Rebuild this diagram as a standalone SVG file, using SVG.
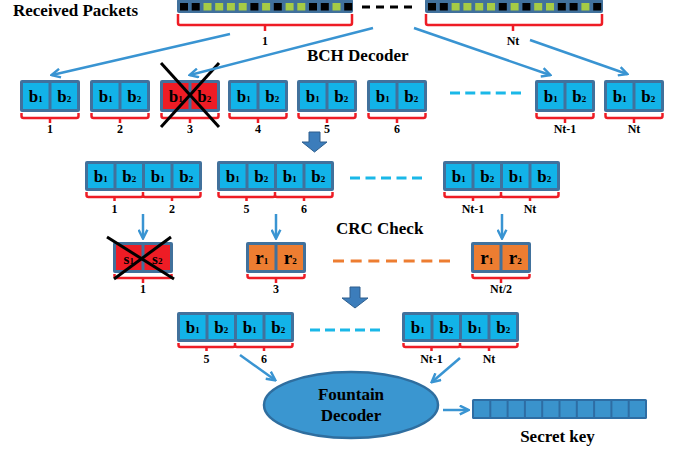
<svg xmlns="http://www.w3.org/2000/svg" width="676" height="452" viewBox="0 0 676 452">
<defs>
<style>
.t{font-family:"Liberation Serif","Times New Roman",serif;font-weight:bold;fill:#000}
.h{font-size:17px}
.lb{font-size:12px;text-anchor:middle}
.cb{font-size:17px;text-anchor:middle}
.sub{font-size:9px}
.ob{fill:#41719C}
.cy{fill:#12B3E8}
.rd{fill:#EE1C25}
.or{fill:#ED7D31}
.k{fill:#000}
.g{fill:#A6CB45}
.br{fill:none;stroke:#EE1C25;stroke-width:2.5;stroke-linejoin:round}
.ar{fill:none;stroke:#3994D2;stroke-width:2.5;marker-end:url(#ah)}
.x{stroke:#000;stroke-width:3}
.ba{fill:#3C7DBB;stroke:#2E5F8E;stroke-width:1}
</style>
<marker id="ah" viewBox="0 0 10 10" refX="8.5" refY="5" markerWidth="11" markerHeight="11" markerUnits="userSpaceOnUse" orient="auto">
<path d="M1,1 L9,5 L1,9" fill="none" stroke="#3994D2" stroke-width="2.2"/>
</marker>
</defs>
<rect width="676" height="452" fill="#fff"/>

<text class="t h" x="13" y="16">Received Packets</text>
<text class="t h" x="307" y="61">BCH Decoder</text>
<text class="t h" x="336" y="234">CRC Check</text>

<g id="packet1">
<rect class="ob" x="177" y="-1" width="176" height="14" rx="2"/>
<rect class="k" x="180" y="3" width="8" height="7.5"/><rect class="k" x="191.7" y="3" width="8" height="7.5"/><rect class="g" x="203.5" y="3" width="8" height="7.5"/><rect class="g" x="215.2" y="3" width="8" height="7.5"/><rect class="g" x="226.9" y="3" width="8" height="7.5"/><rect class="g" x="238.7" y="3" width="8" height="7.5"/><rect class="k" x="250.4" y="3" width="8" height="7.5"/><rect class="g" x="262.1" y="3" width="8" height="7.5"/><rect class="k" x="273.8" y="3" width="8" height="7.5"/><rect class="g" x="285.6" y="3" width="8" height="7.5"/><rect class="g" x="297.3" y="3" width="8" height="7.5"/><rect class="k" x="309" y="3" width="8" height="7.5"/><rect class="k" x="320.8" y="3" width="8" height="7.5"/><rect class="g" x="332.5" y="3" width="8" height="7.5"/><rect class="k" x="344.2" y="3" width="8" height="7.5"/>
<path class="br" d="M178 14V23Q178 25 180 25H350Q352 25 352 23V14M265 25V31"/>
<text class="t lb" x="265" y="45">1</text>
</g>
<g id="packetNt">
<rect class="ob" x="425" y="-1" width="178" height="14" rx="2"/>
<rect class="k" x="428" y="3" width="8" height="7.5"/><rect class="k" x="439.8" y="3" width="8" height="7.5"/><rect class="g" x="451.6" y="3" width="8" height="7.5"/><rect class="g" x="463.4" y="3" width="8" height="7.5"/><rect class="g" x="475.2" y="3" width="8" height="7.5"/><rect class="g" x="487" y="3" width="8" height="7.5"/><rect class="k" x="498.8" y="3" width="8" height="7.5"/><rect class="g" x="510.6" y="3" width="8" height="7.5"/><rect class="k" x="522.4" y="3" width="8" height="7.5"/><rect class="g" x="534.2" y="3" width="8" height="7.5"/><rect class="g" x="546" y="3" width="8" height="7.5"/><rect class="k" x="557.8" y="3" width="8" height="7.5"/><rect class="k" x="569.6" y="3" width="8" height="7.5"/><rect class="g" x="581.4" y="3" width="8" height="7.5"/><rect class="k" x="593.2" y="3" width="8" height="7.5"/>
<path class="br" d="M426 14V23Q426 25 428 25H600Q602 25 602 23V14M513 25V31"/>
<text class="t lb" x="513" y="45">Nt</text>
</g>

<!-- Row 1 -->
<g id="r1b1"><rect class="ob" x="20" y="80" width="60" height="32" rx="2"/><rect class="cy" x="23" y="83" width="25.5" height="26"/><rect class="cy" x="51.5" y="83" width="25.5" height="26"/>
<text class="t cb" x="35.75" y="102">b<tspan class="sub">1</tspan></text><text class="t cb" x="64.25" y="102">b<tspan class="sub">2</tspan></text>
<path class="br" d="M21.5 113V116Q21.5 118 23.5 118H76.5Q78.5 118 78.5 116V113M50 118V123"/><text class="t lb" x="50" y="133">1</text></g>
<g id="r1b2"><rect class="ob" x="90" y="80" width="60" height="32" rx="2"/><rect class="cy" x="93" y="83" width="25.5" height="26"/><rect class="cy" x="121.5" y="83" width="25.5" height="26"/>
<text class="t cb" x="105.75" y="102">b<tspan class="sub">1</tspan></text><text class="t cb" x="134.25" y="102">b<tspan class="sub">2</tspan></text>
<path class="br" d="M91.5 113V116Q91.5 118 93.5 118H146.5Q148.5 118 148.5 116V113M120 118V123"/><text class="t lb" x="120" y="133">2</text></g>
<g id="r1b3"><rect class="ob" x="160" y="80" width="60" height="32" rx="2"/><rect class="rd" x="163" y="83" width="25.5" height="26"/><rect class="rd" x="191.5" y="83" width="25.5" height="26"/>
<text class="t cb" x="175.75" y="102">b<tspan class="sub">1</tspan></text><text class="t cb" x="204.25" y="102">b<tspan class="sub">2</tspan></text>
<path class="br" d="M161.5 113V116Q161.5 118 163.5 118H216.5Q218.5 118 218.5 116V113M190 118V123"/><text class="t lb" x="190" y="133">3</text>
<line class="x" x1="161" y1="63" x2="219" y2="127"/><line class="x" x1="219" y1="63" x2="161" y2="127"/></g>
<g id="r1b4"><rect class="ob" x="228" y="80" width="60" height="32" rx="2"/><rect class="cy" x="231" y="83" width="25.5" height="26"/><rect class="cy" x="259.5" y="83" width="25.5" height="26"/>
<text class="t cb" x="243.75" y="102">b<tspan class="sub">1</tspan></text><text class="t cb" x="272.25" y="102">b<tspan class="sub">2</tspan></text>
<path class="br" d="M229.5 113V116Q229.5 118 231.5 118H284.5Q286.5 118 286.5 116V113M258 118V123"/><text class="t lb" x="258" y="133">4</text></g>
<g id="r1b5"><rect class="ob" x="297" y="80" width="60" height="32" rx="2"/><rect class="cy" x="300" y="83" width="25.5" height="26"/><rect class="cy" x="328.5" y="83" width="25.5" height="26"/>
<text class="t cb" x="312.75" y="102">b<tspan class="sub">1</tspan></text><text class="t cb" x="341.25" y="102">b<tspan class="sub">2</tspan></text>
<path class="br" d="M298.5 113V116Q298.5 118 300.5 118H353.5Q355.5 118 355.5 116V113M327 118V123"/><text class="t lb" x="327" y="133">5</text></g>
<g id="r1b6"><rect class="ob" x="367" y="80" width="60" height="32" rx="2"/><rect class="cy" x="370" y="83" width="25.5" height="26"/><rect class="cy" x="398.5" y="83" width="25.5" height="26"/>
<text class="t cb" x="382.75" y="102">b<tspan class="sub">1</tspan></text><text class="t cb" x="411.25" y="102">b<tspan class="sub">2</tspan></text>
<path class="br" d="M368.5 113V116Q368.5 118 370.5 118H423.5Q425.5 118 425.5 116V113M397 118V123"/><text class="t lb" x="397" y="133">6</text></g>
<g id="r1bNt1"><rect class="ob" x="535" y="80" width="60" height="32" rx="2"/><rect class="cy" x="538" y="83" width="25.5" height="26"/><rect class="cy" x="566.5" y="83" width="25.5" height="26"/>
<text class="t cb" x="550.75" y="102">b<tspan class="sub">1</tspan></text><text class="t cb" x="579.25" y="102">b<tspan class="sub">2</tspan></text>
<path class="br" d="M536.5 113V116Q536.5 118 538.5 118H591.5Q593.5 118 593.5 116V113M565 118V123"/><text class="t lb" x="565" y="133">Nt-1</text></g>
<g id="r1bNt"><rect class="ob" x="604" y="80" width="60" height="32" rx="2"/><rect class="cy" x="607" y="83" width="25.5" height="26"/><rect class="cy" x="635.5" y="83" width="25.5" height="26"/>
<text class="t cb" x="619.75" y="102">b<tspan class="sub">1</tspan></text><text class="t cb" x="648.25" y="102">b<tspan class="sub">2</tspan></text>
<path class="br" d="M605.5 113V116Q605.5 118 607.5 118H660.5Q662.5 118 662.5 116V113M634 118V123"/><text class="t lb" x="634" y="133">Nt</text></g>

<!-- Row 2 -->
<g id="r2a"><rect class="ob" x="85" y="161" width="117" height="30" rx="2"/>
<rect class="cy" x="88" y="164" width="25.5" height="24"/><rect class="cy" x="116.5" y="164" width="25.5" height="24"/><rect class="cy" x="145" y="164" width="25.5" height="24"/><rect class="cy" x="173.5" y="164" width="25.5" height="24"/>
<text class="t cb" x="100.75" y="182">b<tspan class="sub">1</tspan></text><text class="t cb" x="129.25" y="182">b<tspan class="sub">2</tspan></text><text class="t cb" x="157.75" y="182">b<tspan class="sub">1</tspan></text><text class="t cb" x="186.25" y="182">b<tspan class="sub">2</tspan></text>
<path class="br" d="M86.5 192V195Q86.5 197 88.5 197H141Q143 197 143 195V192M143 195Q143 197 145 197H198.5Q200.5 197 200.5 195V192M114.5 197V201M172 197V201"/>
<text class="t lb" x="114.5" y="213">1</text><text class="t lb" x="172" y="213">2</text></g>
<g id="r2b"><rect class="ob" x="217" y="161" width="117" height="30" rx="2"/>
<rect class="cy" x="220" y="164" width="25.5" height="24"/><rect class="cy" x="248.5" y="164" width="25.5" height="24"/><rect class="cy" x="277" y="164" width="25.5" height="24"/><rect class="cy" x="305.5" y="164" width="25.5" height="24"/>
<text class="t cb" x="232.75" y="182">b<tspan class="sub">1</tspan></text><text class="t cb" x="261.25" y="182">b<tspan class="sub">2</tspan></text><text class="t cb" x="289.75" y="182">b<tspan class="sub">1</tspan></text><text class="t cb" x="318.25" y="182">b<tspan class="sub">2</tspan></text>
<path class="br" d="M218.5 192V195Q218.5 197 220.5 197H273Q275 197 275 195V192M275 195Q275 197 277 197H330.5Q332.5 197 332.5 195V192M246.5 197V201M304 197V201"/>
<text class="t lb" x="246.5" y="213">5</text><text class="t lb" x="304" y="213">6</text></g>
<g id="r2c"><rect class="ob" x="443" y="161" width="117" height="30" rx="2"/>
<rect class="cy" x="446" y="164" width="25.5" height="24"/><rect class="cy" x="474.5" y="164" width="25.5" height="24"/><rect class="cy" x="503" y="164" width="25.5" height="24"/><rect class="cy" x="531.5" y="164" width="25.5" height="24"/>
<text class="t cb" x="458.75" y="182">b<tspan class="sub">1</tspan></text><text class="t cb" x="487.25" y="182">b<tspan class="sub">2</tspan></text><text class="t cb" x="515.75" y="182">b<tspan class="sub">1</tspan></text><text class="t cb" x="544.25" y="182">b<tspan class="sub">2</tspan></text>
<path class="br" d="M444.5 192V195Q444.5 197 446.5 197H499Q501 197 501 195V192M501 195Q501 197 503 197H556.5Q558.5 197 558.5 195V192M473 197V201M530 197V201"/>
<text class="t lb" x="473" y="213">Nt-1</text><text class="t lb" x="530" y="213">Nt</text></g>

<!-- Row 3 -->
<g id="r3s"><rect class="ob" x="113" y="242" width="60" height="31" rx="2"/><rect class="rd" x="116" y="245" width="25.5" height="25"/><rect class="rd" x="144.5" y="245" width="25.5" height="25"/>
<text class="t cb" x="128.75" y="264" style="font-size:15px">s<tspan class="sub">1</tspan></text><text class="t cb" x="157.25" y="264" style="font-size:15px">s<tspan class="sub">2</tspan></text>
<path class="br" d="M114.5 274V276Q114.5 278 116.5 278H169.5Q171.5 278 171.5 276V274M143 278V283"/><text class="t lb" x="143" y="293">1</text>
<line class="x" x1="107" y1="237" x2="174" y2="279"/><line class="x" x1="171" y1="237" x2="114" y2="279"/></g>
<g id="r3r"><rect class="ob" x="246" y="242" width="60" height="31" rx="2"/><rect class="or" x="249" y="245" width="25.5" height="25"/><rect class="or" x="277.5" y="245" width="25.5" height="25"/>
<text class="t cb" x="261.75" y="264" style="font-size:19px">r<tspan class="sub">1</tspan></text><text class="t cb" x="290.25" y="264" style="font-size:19px">r<tspan class="sub">2</tspan></text>
<path class="br" d="M247.5 274V276Q247.5 278 249.5 278H302.5Q304.5 278 304.5 276V274M276 278V283"/><text class="t lb" x="276" y="293">3</text></g>
<g id="r3rNt"><rect class="ob" x="471" y="242" width="60" height="31" rx="2"/><rect class="or" x="474" y="245" width="25.5" height="25"/><rect class="or" x="502.5" y="245" width="25.5" height="25"/>
<text class="t cb" x="486.75" y="264" style="font-size:19px">r<tspan class="sub">1</tspan></text><text class="t cb" x="515.25" y="264" style="font-size:19px">r<tspan class="sub">2</tspan></text>
<path class="br" d="M472.5 274V276Q472.5 278 474.5 278H527.5Q529.5 278 529.5 276V274M501 278V283"/><text class="t lb" x="501" y="293">Nt/2</text></g>

<!-- Row 4 -->
<g id="r4d"><rect class="ob" x="177" y="312" width="117" height="30" rx="2"/>
<rect class="cy" x="180" y="315" width="25.5" height="24"/><rect class="cy" x="208.5" y="315" width="25.5" height="24"/><rect class="cy" x="237" y="315" width="25.5" height="24"/><rect class="cy" x="265.5" y="315" width="25.5" height="24"/>
<text class="t cb" x="192.75" y="333">b<tspan class="sub">1</tspan></text><text class="t cb" x="221.25" y="333">b<tspan class="sub">2</tspan></text><text class="t cb" x="249.75" y="333">b<tspan class="sub">1</tspan></text><text class="t cb" x="278.25" y="333">b<tspan class="sub">2</tspan></text>
<path class="br" d="M178.5 343V345Q178.5 347 180.5 347H233Q235 347 235 345V343M235 345Q235 347 237 347H290.5Q292.5 347 292.5 345V343M206.5 347V351M264 347V351"/>
<text class="t lb" x="206.5" y="363">5</text><text class="t lb" x="264" y="363">6</text></g>
<g id="r4e"><rect class="ob" x="402" y="312" width="117" height="30" rx="2"/>
<rect class="cy" x="405" y="315" width="25.5" height="24"/><rect class="cy" x="433.5" y="315" width="25.5" height="24"/><rect class="cy" x="462" y="315" width="25.5" height="24"/><rect class="cy" x="490.5" y="315" width="25.5" height="24"/>
<text class="t cb" x="417.75" y="333">b<tspan class="sub">1</tspan></text><text class="t cb" x="446.25" y="333">b<tspan class="sub">2</tspan></text><text class="t cb" x="474.75" y="333">b<tspan class="sub">1</tspan></text><text class="t cb" x="503.25" y="333">b<tspan class="sub">2</tspan></text>
<path class="br" d="M403.5 343V345Q403.5 347 405.5 347H458Q460 347 460 345V343M460 345Q460 347 462 347H515.5Q517.5 347 517.5 345V343M431.5 347V351M489 347V351"/>
<text class="t lb" x="431.5" y="363">Nt-1</text><text class="t lb" x="489" y="363">Nt</text></g>

<!-- Fountain decoder -->
<g id="fountain">
<ellipse cx="351" cy="405" rx="87" ry="33" fill="#3A96D0" stroke="#2F6E9F" stroke-width="2.5"/>
<text class="t h" x="351" y="400" text-anchor="middle">Fountain</text>
<text class="t h" x="351" y="421" text-anchor="middle">Decoder</text>
</g>
<g id="secretkey">
<rect x="472" y="399" width="175" height="20" rx="1.5" fill="#2E6DA3"/>
<rect x="474" y="401" width="15.3" height="16" fill="#3A93CC"/><rect x="491.3" y="401" width="15.3" height="16" fill="#3A93CC"/><rect x="508.6" y="401" width="15.3" height="16" fill="#3A93CC"/><rect x="525.9" y="401" width="15.3" height="16" fill="#3A93CC"/><rect x="543.2" y="401" width="15.3" height="16" fill="#3A93CC"/><rect x="560.5" y="401" width="15.3" height="16" fill="#3A93CC"/><rect x="577.8" y="401" width="15.3" height="16" fill="#3A93CC"/><rect x="595.1" y="401" width="15.3" height="16" fill="#3A93CC"/><rect x="612.4" y="401" width="15.3" height="16" fill="#3A93CC"/><rect x="629.7" y="401" width="15.3" height="16" fill="#3A93CC"/>
<text class="t h" x="557.5" y="442" text-anchor="middle">Secret key</text>
</g>

<g id="connectors">
<line x1="362" y1="7" x2="416" y2="7" stroke="#000" stroke-width="3" stroke-dasharray="8 6"/>
<line x1="450" y1="93" x2="521" y2="93" stroke="#1AB8E8" stroke-width="3" stroke-dasharray="10 5.25"/>
<line x1="350" y1="178" x2="422" y2="178" stroke="#1AB8E8" stroke-width="3" stroke-dasharray="10 5.5"/>
<line x1="333" y1="261" x2="450" y2="261" stroke="#ED7D31" stroke-width="3" stroke-dasharray="11 6.67"/>
<line x1="310" y1="330" x2="380" y2="330" stroke="#1AB8E8" stroke-width="3" stroke-dasharray="10 5"/>
<line class="ar" x1="230" y1="34" x2="52" y2="75"/>
<line class="ar" x1="373" y1="28" x2="190" y2="75"/>
<line class="ar" x1="414" y1="28" x2="550" y2="75"/>
<line class="ar" x1="530" y1="40" x2="627" y2="74"/>
<line class="ar" x1="143" y1="214" x2="143" y2="238"/>
<line class="ar" x1="276" y1="214" x2="276" y2="238"/>
<line class="ar" x1="502" y1="214" x2="502" y2="238"/>
<line class="ar" x1="240" y1="355" x2="275" y2="380"/>
<line class="ar" x1="460" y1="358" x2="432" y2="382"/>
<line class="ar" x1="443" y1="410" x2="468" y2="410"/>
<polygon class="ba" points="309,132 320,132 320,142 327,142 314.5,152 302,142 309,142"/>
<polygon class="ba" points="350,287 360,287 360,298 368,298 355,308 342,298 350,298"/>
</g>
</svg>
